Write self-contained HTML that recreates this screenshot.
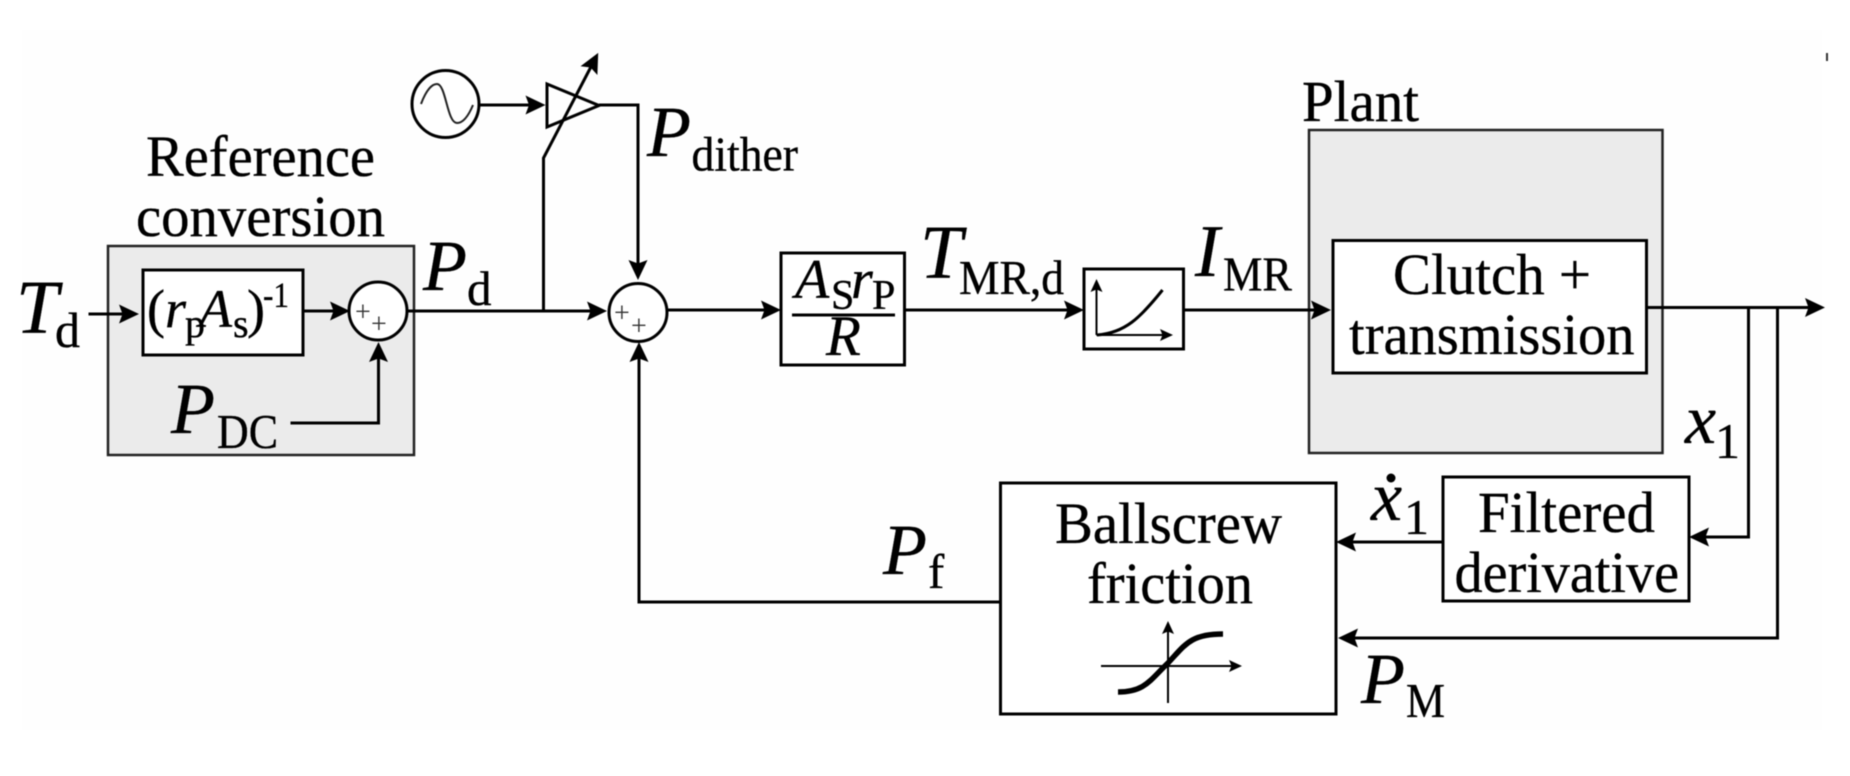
<!DOCTYPE html>
<html>
<head>
<meta charset="utf-8">
<style>
html,body{margin:0;padding:0;background:#fff;}
svg{display:block;filter:blur(0.6px);}
text{font-family:"Liberation Serif",serif;fill:#000;stroke:#000;stroke-width:0.35px;}
.i{font-style:italic;}
.b{fill:#fff;stroke:#000;stroke-width:3;}
.g{fill:#ebebeb;stroke:#222;stroke-width:2.5;}
.l{fill:none;stroke:#000;stroke-width:3;}
.a{fill:none;stroke:#000;stroke-width:3;marker-end:url(#ah);}
.s{fill:none;stroke:#000;stroke-width:2;marker-end:url(#sh);}
.p{fill:#333;stroke:none;}
</style>
</head>
<body>
<svg width="1850" height="776" viewBox="0 0 1850 776" xmlns="http://www.w3.org/2000/svg">
<defs>
<marker id="ah" markerUnits="userSpaceOnUse" markerWidth="30" markerHeight="30" viewBox="-5 -15 30 30" refX="12" refY="0" orient="auto">
<path d="M0,-9.500 L20,0 L0,9.500 L3.500,0 z" fill="#000"/>
</marker>
<marker id="sh" markerUnits="userSpaceOnUse" markerWidth="20" markerHeight="20" viewBox="-5 -10 20 20" refX="7" refY="0" orient="auto">
<path d="M0,-6 L13,0 L0,6 L2.500,0 z" fill="#000"/>
</marker>
</defs>
<rect width="1850" height="776" fill="#fff"/>
<rect x="22" y="30" width="1800" height="700" fill="#fefefe"/>

<!-- group boxes -->
<rect class="g" x="108" y="246" width="306" height="209"/>
<rect class="g" x="1309" y="130" width="353.500" height="323"/>

<!-- blocks -->
<rect class="b" x="143" y="270" width="160" height="85"/>
<rect class="b" x="781" y="253" width="123.500" height="112"/>
<rect class="b" x="1084" y="269" width="99.500" height="80"/>
<rect class="b" x="1333" y="240.500" width="313.500" height="132.500"/>
<rect class="b" x="1443" y="477" width="246" height="124"/>
<rect class="b" x="1000.500" y="483" width="335.500" height="231"/>

<!-- connectors -->
<path class="a" d="M88.500,314 H131"/>
<path class="a" d="M303,311 H342"/>
<path class="a" d="M407,311 H599"/>
<path class="a" d="M290.500,423 H378.500 V350"/>
<path class="a" d="M543.500,311 V158 L594.500,60"/>
<path class="a" d="M480,105 H537.500"/>
<path class="a" d="M599,105 H638 V272"/>
<path class="a" d="M667,310 H773"/>
<path class="a" d="M904.500,310 H1076"/>
<path class="a" d="M1183.500,310 H1323"/>
<path class="a" d="M1646.500,307.500 H1817"/>
<path class="a" d="M1748.500,307.500 V537 H1697"/>
<path class="a" d="M1777.500,307.500 V638 H1346"/>
<path class="a" d="M1443,542 H1344"/>
<path class="a" d="M1000.500,602 H639 V350"/>
<rect x="1826" y="53" width="2" height="8" fill="#333"/>

<!-- triangle amp -->
<polygon points="547,84 547,127 599,105.500" fill="none" stroke="#000" stroke-width="3"/>

<!-- oscillator -->
<circle cx="445.500" cy="104" r="33.500" fill="#fff" stroke="#000" stroke-width="3"/>
<path d="M421,104 C427,88 433,84 437,84 C446,84 447,123 457,123 C463,123 468,117 473,105" fill="none" stroke="#222" stroke-width="2"/>

<!-- sums -->
<circle cx="378" cy="311" r="29" fill="#fff" stroke="#000" stroke-width="3"/>
<circle cx="638" cy="312.500" r="29" fill="#fff" stroke="#000" stroke-width="3"/>
<text class="p" x="355" y="321" font-size="28">+</text>
<text class="p" x="371" y="333" font-size="28">+</text>
<text class="p" x="614" y="322" font-size="28">+</text>
<text class="p" x="631" y="335" font-size="28">+</text>

<!-- small plot -->
<path class="s" d="M1096.500,335 V285"/>
<path class="s" d="M1096.500,335 H1167"/>
<path d="M1097,335 C1125,333 1140,318 1162.500,290" fill="none" stroke="#000" stroke-width="3"/>

<!-- sigmoid -->
<path class="s" d="M1168,703 V627"/>
<path class="s" d="M1101,666 H1236"/>
<path d="M1118,692 C1145,692 1150,680 1168,663 C1185,645 1190,634 1223,634" fill="none" stroke="#000" stroke-width="5.500"/>

<!-- frac line -->
<rect x="792" y="313.500" width="103" height="3" fill="#000"/>

<!-- labels -->
<text x="146" y="176" font-size="58" textLength="229" lengthAdjust="spacingAndGlyphs">Reference</text>
<text x="136" y="236" font-size="58" textLength="249" lengthAdjust="spacingAndGlyphs">conversion</text>
<text class="i" x="16" y="333" font-size="76">T</text>
<text x="55" y="347" font-size="50">d</text>

<text x="147" y="327" font-size="54">(</text>
<text class="i" x="165" y="327" font-size="54">r</text>
<text x="185" y="337" font-size="40">p</text>
<text class="i" x="199" y="327" font-size="54">A</text>
<text x="233" y="337" font-size="40">s</text>
<text x="247" y="327" font-size="54">)</text>
<text x="263" y="307" font-size="36" textLength="26" lengthAdjust="spacingAndGlyphs">-1</text>

<text class="i" x="423" y="290" font-size="72">P</text>
<text x="467" y="305" font-size="49">d</text>
<text class="i" x="171" y="433" font-size="72">P</text>
<text x="217" y="448" font-size="49" textLength="61" lengthAdjust="spacingAndGlyphs">DC</text>

<text class="i" x="647" y="156" font-size="72">P</text>
<text x="691.500" y="170.500" font-size="49" textLength="106.500" lengthAdjust="spacingAndGlyphs">dither</text>

<text class="i" x="795" y="298" font-size="56">A</text>
<text x="831" y="309" font-size="42">S</text>
<text class="i" x="851" y="298" font-size="56">r</text>
<text x="872" y="309" font-size="42">P</text>
<text class="i" x="826" y="355" font-size="57">R</text>

<text class="i" x="920" y="278" font-size="76">T</text>
<text x="959" y="294" font-size="49" textLength="105" lengthAdjust="spacingAndGlyphs">MR,d</text>
<text class="i" x="1195" y="276" font-size="74">I</text>
<text x="1223" y="290.500" font-size="49" textLength="69" lengthAdjust="spacingAndGlyphs">MR</text>

<text x="1302" y="121" font-size="58" textLength="117" lengthAdjust="spacingAndGlyphs">Plant</text>
<text x="1393" y="294" font-size="58" textLength="198" lengthAdjust="spacingAndGlyphs">Clutch +</text>
<text x="1349" y="354" font-size="58" textLength="285.500" lengthAdjust="spacingAndGlyphs">transmission</text>

<text class="i" x="1685" y="443" font-size="70">x</text>
<text x="1715" y="458" font-size="50">1</text>
<text class="i" x="1371" y="520" font-size="70">x</text>
<circle cx="1391" cy="478" r="4.500" fill="#000"/>
<text x="1404" y="534" font-size="50">1</text>

<text x="1478" y="532" font-size="58" textLength="177" lengthAdjust="spacingAndGlyphs">Filtered</text>
<text x="1454.500" y="592" font-size="58" textLength="224.500" lengthAdjust="spacingAndGlyphs">derivative</text>

<text class="i" x="1361" y="703" font-size="72">P</text>
<text x="1406" y="717" font-size="49" textLength="39" lengthAdjust="spacingAndGlyphs">M</text>
<text class="i" x="883" y="574" font-size="72">P</text>
<text x="928" y="588" font-size="49">f</text>

<text x="1055" y="543" font-size="58" textLength="227" lengthAdjust="spacingAndGlyphs">Ballscrew</text>
<text x="1087" y="603" font-size="58" textLength="166" lengthAdjust="spacingAndGlyphs">friction</text>
</svg>
</body>
</html>
